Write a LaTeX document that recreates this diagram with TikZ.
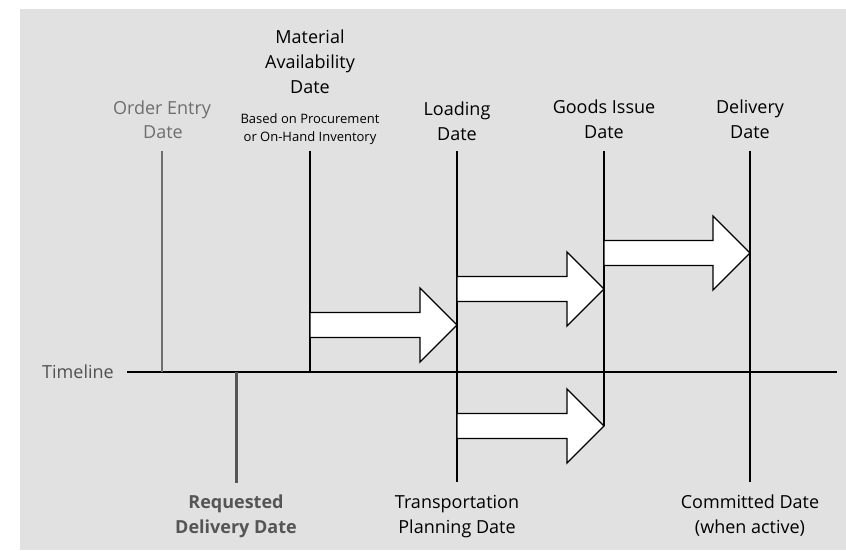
\documentclass[tikz,border=0pt]{standalone}
\usepackage{fontspec}
\setmainfont{Open Sans}
\definecolor{bgc}{HTML}{E1E1E1}
\definecolor{oegray}{HTML}{6E6E6E}
\definecolor{rqgray}{HTML}{555555}
\definecolor{tlgray}{HTML}{505050}
\begin{document}
\begin{tikzpicture}[x=1pt,y=-1pt,
  lab/.style={font=\fontsize{18}{25}\selectfont, inner sep=0pt, anchor=base},
  sublab/.style={font=\fontsize{13}{18}\selectfont, inner sep=0pt, anchor=base},
  vline/.style={draw=black, line width=1.3pt},
  arrowbox/.style={draw=black, fill=white, line width=1.3pt, line join=miter}]
\useasboundingbox (0,0) rectangle (846,550);
\fill[bgc] (20,9) rectangle (846,550);

% timeline
\coordinate (tlL) at (127,372);
\coordinate (tlR) at (837,372);
\draw[vline] (tlL) -- (tlR);
\node[lab, anchor=base east, text=tlgray] (tltext) at (114,378) {Timeline};

% vertical line coordinates
\coordinate (oeT) at (162,151);  \coordinate (oeB) at (162,372);
\coordinate (maT) at (310,151);  \coordinate (maB) at (310,372);
\coordinate (ldT) at (457,151);  \coordinate (ldB) at (457,482);
\coordinate (giT) at (604,151);  \coordinate (giB) at (604,426);
\coordinate (dlT) at (750,151);  \coordinate (dlB) at (750,482);
\coordinate (rqT) at (236,372);  \coordinate (rqB) at (236,483);

\draw[draw=oegray, line width=1.3pt] (oeT) -- (oeB);
\draw[vline] (maT) -- (maB);
\draw[vline] (ldT) -- (ldB);
\draw[vline] (giT) -- (giB);
\draw[vline] (dlT) -- (dlB);
\draw[draw=rqgray, line width=3pt] (rqT) -- (rqB);

% top labels
\node[lab, text=oegray] (oe1) at (162,114) {Order Entry};
\node[lab, text=oegray] (oe2) at (163,138) {Date};
\node[lab] (ma1) at (310,43) {Material};
\node[lab] (ma2) at (310,68) {Availability};
\node[lab] (ma3) at (310,93) {Date};
\node[sublab] (ma4) at (310,123) {Based on Procurement};
\node[sublab] (ma5) at (310,141) {or On-Hand Inventory};
\node[lab] (ld1) at (457,115) {Loading};
\node[lab] (ld2) at (457,140) {Date};
\node[lab] (gi1) at (604,113) {Goods Issue};
\node[lab] (gi2) at (604,138) {Date};
\node[lab] (dl1) at (750,113) {Delivery};
\node[lab] (dl2) at (750,138) {Date};

% bottom labels
\node[lab, text=rqgray, font=\fontsize{18}{25}\selectfont\bfseries] (rq1) at (236,508) {Requested};
\node[lab, text=rqgray, font=\fontsize{18}{25}\selectfont\bfseries] (rq2) at (236,533) {Delivery Date};
\node[lab] (tp1) at (457,508) {Transportation};
\node[lab] (tp2) at (457,533) {Planning Date};
\node[lab] (cd1) at (750,508) {Committed Date};
\node[lab] (cd2) at (750,533) {(when active)};

% block arrows: start x, tip x, centre y
\newcommand{\blockarrow}[3]{%
  \draw[arrowbox] (#1,#3-12.5) -- (#2-37,#3-12.5) -- (#2-37,#3-37) -- (#2,#3)
    -- (#2-37,#3+37) -- (#2-37,#3+12.5) -- (#1,#3+12.5) -- cycle;}
\blockarrow{310}{457}{325}
\blockarrow{457}{604}{289}
\blockarrow{604}{750}{253}
\blockarrow{457}{604}{426}
\end{tikzpicture}
\end{document}
